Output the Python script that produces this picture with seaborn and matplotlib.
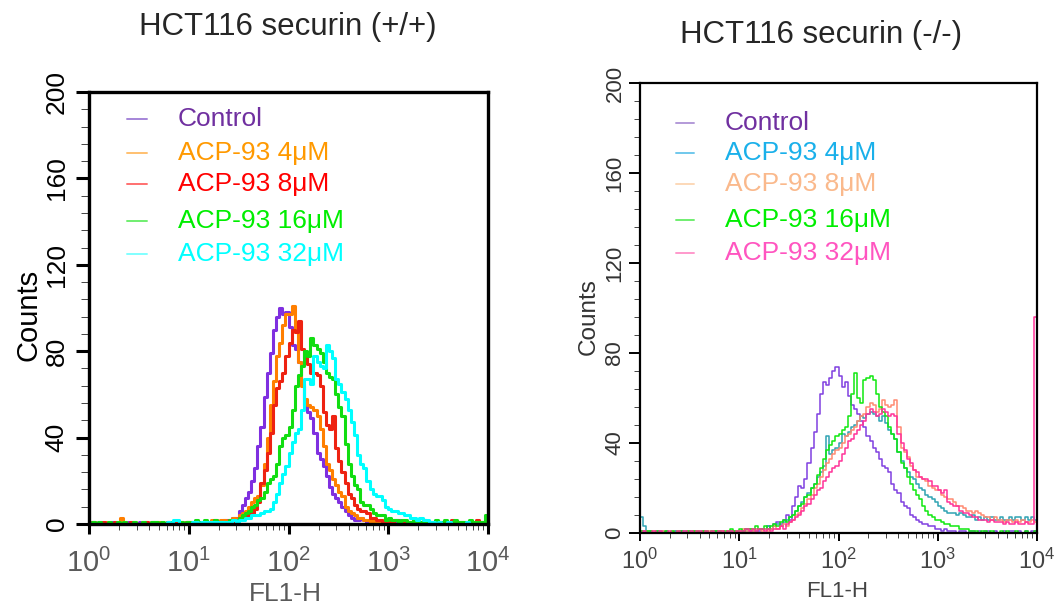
import matplotlib
matplotlib.use("Agg")
import matplotlib.pyplot as plt
import numpy as np
import pandas as pd
import seaborn as sns

# FL1-H histograms: 128 log-spaced channels over 10^0 .. 10^4 (32 per decade),
# one row of 32 values per decade.
N_BINS = 128
DECADES = 4

labels = ["Control", "ACP-93 4μM", "ACP-93 8μM", "ACP-93 16μM", "ACP-93 32μM"]

# ---- HCT116 securin (+/+) ----
wt_control = [
    1, 0, 0, 1, 0, 0, 0, 1, 0, 0, 0, 0, 1, 0, 0, 0, 1, 0, 0, 0, 0, 1, 0, 0, 0, 1, 1, 0, 0, 1, 0, 1,
    0, 1, 0, 1, 1, 0, 1, 1, 0, 1, 1, 2, 2, 1, 3, 3, 6, 9, 12, 15, 20, 26, 36, 45, 59, 70, 79, 90, 96, 100, 97, 98,
    91, 83, 81, 75, 65, 55, 52, 49, 42, 33, 30, 27, 22, 17, 14, 12, 10, 8, 6, 4, 3, 2, 2, 3, 2, 1, 2, 0, 1, 1, 0, 1,
    1, 0, 1, 2, 0, 1, 0, 0, 1, 0, 1, 0, 0, 1, 0, 0, 1, 0, 0, 0, 1, 0, 0, 1, 0, 0, 0, 1, 0, 0, 1, 1,
]
wt_4uM = [
    0, 1, 0, 0, 0, 1, 0, 0, 0, 0, 3, 1, 0, 0, 1, 0, 0, 1, 1, 0, 0, 0, 1, 0, 0, 1, 0, 0, 0, 1, 0, 1,
    1, 0, 1, 1, 0, 1, 1, 2, 1, 1, 2, 2, 1, 2, 3, 2, 4, 5, 6, 8, 10, 12, 13, 18, 28, 40, 55, 66, 78, 84, 92, 97,
    97, 101, 89, 75, 64, 58, 55, 54, 53, 50, 44, 36, 28, 25, 21, 18, 15, 13, 8, 6, 5, 4, 3, 3, 2, 2, 1, 2, 1, 1, 2, 1,
    1, 1, 0, 1, 1, 0, 1, 0, 1, 0, 0, 1, 0, 1, 0, 1, 1, 0, 0, 1, 0, 1, 0, 0, 1, 0, 0, 0, 0, 1, 0, 0,
]
wt_8uM = [
    0, 1, 0, 0, 1, 0, 0, 0, 1, 0, 0, 0, 0, 1, 0, 0, 0, 0, 1, 0, 1, 0, 0, 0, 0, 1, 0, 1, 0, 0, 0, 1,
    1, 0, 1, 0, 1, 1, 0, 1, 2, 1, 1, 1, 1, 2, 1, 2, 3, 3, 4, 4, 5, 7, 10, 19, 25, 33, 42, 55, 63, 66, 70, 78,
    84, 90, 89, 94, 81, 77, 74, 70, 70, 69, 64, 52, 46, 44, 50, 35, 29, 24, 19, 14, 12, 9, 7, 6, 6, 5, 3, 3, 2, 2, 1, 2,
    1, 1, 2, 1, 1, 1, 0, 1, 1, 0, 1, 2, 0, 1, 1, 1, 0, 1, 0, 1, 2, 0, 1, 1, 0, 1, 1, 0, 2, 1, 1, 1,
]
wt_16uM = [
    0, 1, 0, 1, 0, 0, 1, 0, 0, 1, 0, 1, 0, 0, 1, 0, 0, 1, 0, 0, 1, 1, 0, 1, 0, 0, 1, 0, 0, 1, 0, 1,
    1, 1, 2, 1, 0, 2, 1, 1, 2, 1, 1, 1, 1, 2, 2, 1, 3, 4, 5, 6, 8, 9, 11, 12, 15, 19, 21, 22, 28, 36, 40, 41,
    45, 53, 64, 69, 73, 80, 78, 86, 83, 81, 79, 75, 70, 68, 67, 60, 54, 50, 37, 28, 22, 18, 16, 10, 9, 9, 7, 5, 4, 4, 4, 2,
    3, 2, 2, 1, 2, 2, 1, 1, 2, 1, 1, 2, 1, 1, 1, 2, 1, 1, 2, 1, 1, 2, 1, 1, 1, 1, 2, 1, 1, 1, 1, 4,
]
wt_32uM = [
    0, 0, 0, 0, 0, 0, 0, 0, 0, 0, 0, 0, 0, 0, 0, 0, 0, 0, 0, 0, 0, 0, 0, 0, 0, 1, 0, 2, 2, 0, 0, 0,
    0, 1, 1, 0, 1, 1, 1, 1, 1, 1, 1, 1, 1, 1, 2, 1, 2, 2, 3, 3, 4, 4, 4, 5, 6, 6, 7, 10, 14, 19, 23, 27,
    33, 38, 42, 44, 53, 67, 67, 65, 78, 75, 73, 72, 83, 80, 77, 67, 65, 61, 58, 53, 47, 41, 32, 28, 26, 20, 16, 14, 13, 13, 11, 8,
    7, 6, 6, 5, 5, 4, 4, 3, 3, 2, 3, 2, 2, 1, 1, 0, 1, 0, 0, 1, 0, 0, 0, 0, 0, 1, 0, 0, 0, 0, 0, 0,
]

# ---- HCT116 securin (-/-) ----
ko_control = [
    1, 1, 0, 1, 0, 0, 1, 0, 1, 0, 0, 1, 0, 1, 0, 0, 1, 0, 1, 0, 0, 1, 0, 0, 1, 0, 1, 0, 1, 1, 0, 1,
    1, 1, 2, 1, 1, 2, 1, 2, 2, 3, 2, 4, 5, 4, 6, 8, 6, 12, 16, 21, 20, 24, 31, 38, 45, 53, 62, 67, 66, 69, 72, 74,
    70, 65, 67, 61, 57, 55, 53, 50, 47, 43, 41, 38, 36, 33, 30, 29, 27, 22, 19, 18, 14, 12, 11, 8, 7, 6, 5, 4, 4, 3, 3, 2,
    2, 1, 2, 1, 1, 1, 0, 1, 1, 0, 1, 1, 0, 1, 0, 1, 1, 0, 1, 0, 0, 1, 0, 1, 1, 0, 1, 0, 1, 0, 1, 1,
]
ko_4uM = [
    7, 3, 1, 1, 0, 1, 0, 1, 1, 0, 0, 1, 0, 1, 1, 0, 0, 1, 0, 1, 1, 0, 0, 1, 1, 0, 1, 0, 0, 1, 1, 0,
    1, 1, 1, 2, 1, 1, 2, 2, 2, 3, 2, 3, 4, 3, 5, 6, 7, 8, 10, 12, 14, 16, 18, 20, 22, 25, 27, 30, 43, 35, 37, 38,
    40, 44, 43, 45, 47, 48, 50, 52, 51, 53, 54, 53, 52, 50, 52, 49, 46, 44, 42, 36, 32, 29, 27, 25, 24, 22, 20, 19, 17, 16, 15, 14,
    12, 11, 10, 9, 9, 9, 8, 9, 8, 7, 7, 8, 6, 7, 6, 7, 6, 7, 6, 6, 7, 6, 6, 7, 6, 7, 7, 6, 7, 6, 7, 6,
]
ko_8uM = [
    1, 0, 1, 0, 1, 0, 0, 1, 0, 0, 1, 0, 1, 0, 0, 1, 0, 1, 1, 0, 1, 0, 1, 1, 0, 1, 1, 0, 1, 0, 1, 1,
    1, 2, 1, 2, 1, 2, 2, 1, 2, 1, 2, 3, 2, 3, 4, 3, 5, 6, 8, 9, 11, 13, 15, 17, 20, 22, 25, 28, 31, 33, 35, 37,
    38, 40, 43, 44, 46, 47, 50, 52, 53, 56, 58, 57, 54, 55, 59, 57, 56, 57, 59, 47, 38, 36, 34, 30, 28, 25, 25, 24, 23, 21, 20, 19,
    19, 17, 16, 15, 15, 14, 12, 12, 11, 10, 10, 9, 10, 9, 8, 7, 7, 6, 7, 6, 6, 5, 6, 6, 5, 6, 5, 6, 5, 5, 6, 5,
]
ko_16uM = [
    1, 0, 1, 1, 0, 1, 0, 0, 1, 0, 1, 0, 1, 1, 0, 1, 0, 1, 1, 0, 1, 1, 0, 1, 1, 1, 0, 1, 1, 2, 1, 1,
    2, 1, 2, 2, 2, 3, 2, 2, 3, 2, 3, 4, 3, 5, 6, 5, 7, 8, 10, 12, 13, 16, 17, 20, 22, 26, 29, 33, 37, 39, 41, 43,
    44, 46, 47, 52, 62, 71, 60, 58, 68, 69, 70, 68, 62, 56, 54, 52, 47, 44, 42, 36, 31, 29, 25, 22, 19, 17, 15, 12, 10, 8, 7, 6,
    6, 5, 4, 4, 3, 3, 3, 2, 2, 2, 1, 1, 1, 0, 1, 1, 0, 1, 0, 0, 1, 0, 1, 0, 0, 1, 0, 0, 1, 0, 0, 1,
]
ko_32uM = [
    0, 1, 0, 0, 1, 0, 1, 0, 0, 1, 0, 0, 1, 0, 1, 0, 1, 0, 1, 1, 0, 1, 0, 1, 0, 1, 1, 0, 1, 1, 0, 1,
    1, 1, 2, 1, 2, 1, 2, 2, 1, 2, 1, 2, 2, 3, 2, 4, 5, 6, 7, 8, 10, 12, 13, 15, 17, 19, 20, 23, 25, 27, 29, 30,
    32, 35, 38, 41, 42, 44, 46, 48, 50, 53, 55, 54, 52, 53, 55, 54, 52, 53, 52, 44, 40, 37, 33, 31, 28, 27, 25, 24, 24, 23, 21, 21,
    19, 18, 19, 14, 13, 12, 12, 10, 9, 9, 8, 7, 7, 6, 6, 6, 5, 6, 5, 5, 5, 4, 5, 4, 4, 5, 4, 4, 5, 4, 4, 96,
]

wt_series = [wt_control, wt_4uM, wt_8uM, wt_16uM, wt_32uM]
ko_series = [ko_control, ko_4uM, ko_8uM, ko_16uM, ko_32uM]

# curve colour, legend line colour, legend text colour
wt_colors = ["#7f2fe0", "#ff7f00", "#ee2211", "#11dd11", "#00ffff"]
wt_key = ["#a585d8", "#ffc070", "#ff7070", "#70ee70", "#80ffff"]
wt_text = ["#7030a0", "#ff9900", "#ff0000", "#00ee00", "#00ffff"]
ko_colors = ["#8040e0", "#2fa3b3", "#ff8a72", "#10e810", "#ff3399"]
ko_key = ["#b39ad8", "#70c8ec", "#fcd8b8", "#70ee70", "#ff99cc"]
ko_text = ["#7030a0", "#1ab0ea", "#fab98c", "#00ee00", "#ff55c0"]


def long_table(series):
    edges = np.linspace(0, DECADES, N_BINS + 1)
    centers = (edges[:-1] + edges[1:]) / 2
    frames = []
    for label, counts in zip(labels, series):
        frames.append(pd.DataFrame({"logx": centers, "count": counts, "sample": label}))
    return pd.concat(frames, ignore_index=True)


def draw_panel(ax, series, colors, lw, tick_kw, spine_w, text_color, sizes):
    df = long_table(series)
    for label, color in zip(labels, colors):
        sub = df[df["sample"] == label]
        sns.histplot(
            data=sub, x="logx", weights="count", bins=N_BINS, binrange=(0, DECADES),
            element="step", fill=False, color=color, linewidth=lw, ax=ax,
        )
    ax.set_xlim(0, DECADES)
    ax.set_ylim(0, 200)

    ax.set_xticks(range(DECADES + 1))
    ax.set_xticklabels([r"$\mathregular{10^{%d}}$" % k for k in range(DECADES + 1)])
    ax.set_xticks([k + np.log10(m) for k in range(DECADES) for m in range(2, 10)], minor=True)
    ax.set_yticks(range(0, 201, 40))
    ax.set_yticks(range(0, 201, 8), minor=True)

    for s in ax.spines.values():
        s.set_linewidth(spine_w)
        s.set_edgecolor("black")
        s.set_visible(True)
    ax.tick_params(direction="out", color="black", **tick_kw["common"])
    ax.tick_params(axis="x", which="major", length=tick_kw["xmaj"], pad=tick_kw["xpad"],
                   labelsize=sizes["xtick"], labelcolor=text_color["x"])
    ax.tick_params(axis="x", which="minor", length=tick_kw["xmin"])
    ax.tick_params(axis="y", which="major", length=tick_kw["ymaj"], pad=tick_kw["ypad"],
                   labelsize=sizes["ytick"], labelcolor=text_color["y"], labelrotation=90)
    ax.tick_params(axis="y", which="minor", length=tick_kw["ymin"])
    plt.setp(ax.get_yticklabels(), va="center")

    ax.set_xlabel("FL1-H", fontsize=sizes["xlabel"], color=text_color["x"], va="center")
    ax.set_ylabel("Counts", fontsize=sizes["ylabel"], color=text_color["y"], va="center")


def draw_key(ax, key_colors, text_colors, x_line, x_text, rows, size):
    for label, kc, tc, y in zip(labels, key_colors, text_colors, rows):
        ax.plot(x_line, [y, y], color=kc, linewidth=1.4, transform=ax.transAxes)
        ax.text(x_text, y, label, color=tc, fontsize=size, va="center", ha="left",
                transform=ax.transAxes)


sns.set_style("ticks")
plt.rcParams["font.family"] = ["Liberation Sans", "DejaVu Sans"]
plt.rcParams["mathtext.fontset"] = "custom"
plt.rcParams["mathtext.rm"] = "Liberation Sans"

fig = plt.figure(figsize=(10.61, 6.12), dpi=100)
ax_wt = fig.add_axes([89 / 1061, 1 - 524 / 612, 399 / 1061, 432 / 612])
ax_ko = fig.add_axes([640 / 1061, 1 - 533 / 612, 397 / 1061, 450 / 612])

draw_panel(
    ax_wt, wt_series, wt_colors, 2.2,
    {"common": {"width": 2.2}, "xmaj": 7.5, "xmin": 4.5, "ymaj": 9.5, "ymin": 5.5, "xpad": 10, "ypad": 5},
    2.4, {"x": "#5a5a5a", "y": "black"},
    {"xtick": 21, "ytick": 19, "xlabel": 19, "ylabel": 21},
)
ax_wt.xaxis.set_label_coords(0.491, -0.162)
ax_wt.yaxis.set_label_coords(-0.152, 0.484)
draw_key(ax_wt, wt_key, wt_text, [0.095, 0.145], 0.223,
         [0.9375, 0.859, 0.787, 0.701, 0.625], 19)

draw_panel(
    ax_ko, ko_series, ko_colors, 1.1,
    {"common": {"width": 1.4}, "xmaj": 6, "xmin": 3.5, "ymaj": 8, "ymin": 4.5, "xpad": 5, "ypad": 2.5},
    1.6, {"x": "#444444", "y": "#333333"},
    {"xtick": 17, "ytick": 16, "xlabel": 16, "ylabel": 17.5},
)
ax_ko.xaxis.set_label_coords(0.496, -0.129)
ax_ko.yaxis.set_label_coords(-0.128, 0.482)
draw_key(ax_ko, ko_key, ko_text, [0.091, 0.136], 0.214,
         [0.911, 0.844, 0.776, 0.696, 0.622], 19)

fig.text(288 / 1061, 1 - 27 / 612, "HCT116 securin (+/+)", fontsize=22.5,
         ha="center", va="center")
fig.text(821 / 1061, 1 - 35 / 612, "HCT116 securin (-/-)", fontsize=22.5,
         ha="center", va="center")

fig.savefig("out.png", dpi=100)
